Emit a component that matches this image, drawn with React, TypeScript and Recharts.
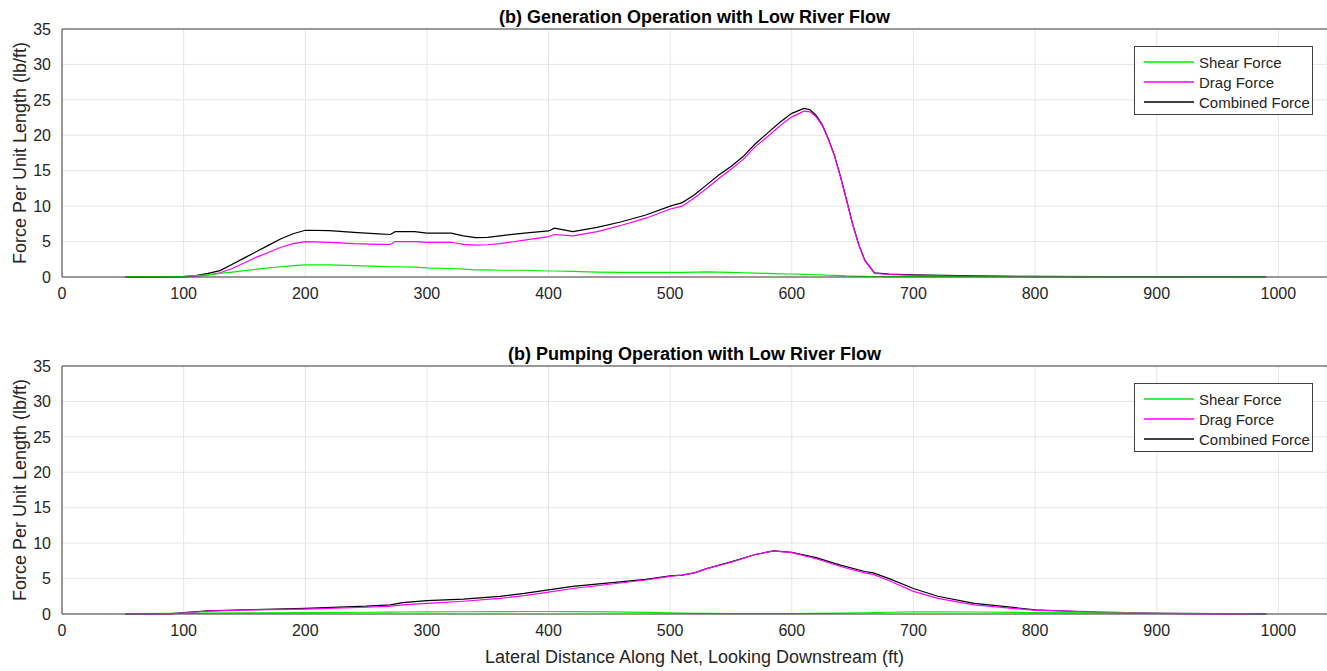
import React from 'react';
import {
  LineChart, Line, XAxis, YAxis, CartesianGrid, ReferenceLine,
} from 'recharts';

// ── Generation operation, low river flow ─────────────────────────────
const genX = [52, 80, 100, 110, 120, 130, 140, 150, 160, 170, 180, 190, 200, 220, 240, 260, 270, 274, 290, 300, 320, 330, 340, 350, 360, 380, 400, 405, 420, 440, 460, 480, 500, 510, 520, 530, 540, 550, 560, 570, 580, 590, 600, 610, 615, 620, 625, 630, 635, 640, 645, 650, 655, 660, 668, 680, 700, 750, 800, 900, 990];
const genShear = [0.05, 0.05, 0.1, 0.2, 0.3, 0.5, 0.7, 0.9, 1.1, 1.3, 1.45, 1.6, 1.7, 1.7, 1.6, 1.5, 1.45, 1.45, 1.4, 1.3, 1.2, 1.1, 1.0, 1.0, 0.95, 0.95, 0.85, 0.85, 0.8, 0.7, 0.65, 0.65, 0.65, 0.65, 0.68, 0.72, 0.68, 0.65, 0.6, 0.55, 0.5, 0.45, 0.42, 0.38, 0.35, 0.32, 0.3, 0.25, 0.22, 0.2, 0.15, 0.12, 0.1, 0.08, 0.07, 0.06, 0.05, 0.04, 0.03, 0.02, 0.01];
const genDrag = [0, 0.01, 0.03, 0.1, 0.3, 0.6, 1.2, 2.0, 2.8, 3.5, 4.2, 4.7, 5.0, 4.9, 4.7, 4.6, 4.6, 5.0, 5.0, 4.9, 4.9, 4.6, 4.5, 4.55, 4.7, 5.2, 5.7, 6.0, 5.8, 6.4, 7.3, 8.3, 9.6, 10.0, 11.2, 12.5, 13.9, 15.2, 16.6, 18.4, 19.8, 21.3, 22.6, 23.4, 23.3, 22.6, 21.4, 19.4, 17.1, 14.1, 10.8, 7.4, 4.5, 2.3, 0.5, 0.35, 0.25, 0.1, 0.05, 0.02, 0];
const genCombined = [0, 0.02, 0.05, 0.2, 0.5, 0.9, 1.8, 2.7, 3.6, 4.5, 5.4, 6.1, 6.6, 6.55, 6.3, 6.1, 6.0, 6.4, 6.4, 6.2, 6.2, 5.8, 5.55, 5.6, 5.8, 6.2, 6.5, 6.9, 6.4, 7.0, 7.8, 8.75, 10.0, 10.5, 11.6, 13.0, 14.4, 15.6, 17.0, 18.8, 20.3, 21.8, 23.1, 23.8, 23.6, 22.8, 21.5, 19.5, 17.2, 14.2, 10.9, 7.5, 4.6, 2.4, 0.6, 0.4, 0.3, 0.15, 0.08, 0.03, 0];

// ── Pumping operation, low river flow ────────────────────────────────
const pumpX = [52, 90, 100, 120, 150, 200, 250, 270, 280, 300, 330, 360, 380, 400, 420, 450, 480, 500, 510, 520, 530, 550, 570, 585, 600, 620, 640, 660, 667, 680, 700, 720, 750, 800, 850, 900, 950, 990];
const pumpShear = [0.05, 0.08, 0.1, 0.12, 0.15, 0.2, 0.25, 0.27, 0.28, 0.3, 0.32, 0.34, 0.35, 0.35, 0.33, 0.3, 0.22, 0.15, 0.12, 0.1, 0.08, 0.05, 0.04, 0.04, 0.05, 0.08, 0.12, 0.18, 0.2, 0.25, 0.3, 0.3, 0.28, 0.2, 0.15, 0.1, 0.07, 0.05];
const pumpDrag = [0, 0.02, 0.15, 0.4, 0.55, 0.7, 0.95, 1.1, 1.3, 1.5, 1.8, 2.2, 2.6, 3.1, 3.6, 4.2, 4.8, 5.3, 5.5, 5.8, 6.4, 7.3, 8.4, 8.9, 8.65, 7.8, 6.7, 5.8, 5.6, 4.7, 3.2, 2.2, 1.3, 0.5, 0.3, 0.1, 0.03, 0];
const pumpCombined = [0, 0.05, 0.2, 0.45, 0.6, 0.8, 1.1, 1.3, 1.6, 1.9, 2.1, 2.5, 2.9, 3.4, 3.9, 4.4, 4.9, 5.4, 5.5, 5.8, 6.4, 7.35, 8.4, 8.9, 8.7, 7.95, 6.9, 6.0, 5.8, 5.0, 3.6, 2.5, 1.5, 0.6, 0.25, 0.1, 0.05, 0];

const xTicks = [0, 100, 200, 300, 400, 500, 600, 700, 800, 900, 1000];
const yTicks = [0, 5, 10, 15, 20, 25, 30, 35];

const FONT = '"Liberation Sans", Arial, Helvetica, sans-serif';
const AXIS = '#404040';
const TEXT = '#262626';
const GREEN = '#00ee00';
const MAGENTA = '#ff00ff';
const BLACK = '#000000';

const series = [
  { key: 'shear', name: 'Shear Force', color: GREEN },
  { key: 'drag', name: 'Drag Force', color: MAGENTA },
  { key: 'combined', name: 'Combined Force', color: BLACK },
];

function rows(x: number[], shear: number[], drag: number[], combined: number[]) {
  return x.map((d, i) => ({ x: d, shear: shear[i], drag: drag[i], combined: combined[i] }));
}

function LegendBox({ top }: { top: number }) {
  return (
    <div style={{
      position: 'absolute', top, left: 1134,
      border: `1px solid ${AXIS}`, background: '#fff', width: 179, height: 69,
      boxSizing: 'border-box', padding: '5px 0 0 9px', fontFamily: FONT, fontSize: 15, color: TEXT,
    }}>
      {series.map((s) => (
        <div key={s.key} style={{ display: 'flex', alignItems: 'center', height: 20 }}>
          <svg width={50} height={4} style={{ marginRight: 5, display: 'block' }}>
            <line x1={0} y1={2} x2={50} y2={2} stroke={s.color} strokeWidth={1.3} />
          </svg>
          <span>{s.name}</span>
        </div>
      ))}
    </div>
  );
}

function Panel({ data, height }: { data: any[]; height: number }) {
  const tick = { fontSize: 16, fill: TEXT, fontFamily: FONT };
  return (
    <LineChart width={1327} height={height} data={data} margin={{ top: 29, right: 0, left: 0, bottom: 0 }}>
      <CartesianGrid stroke="#e6e6e6" strokeWidth={1} />
      <XAxis
        dataKey="x"
        type="number"
        domain={[0, 1040]}
        ticks={xTicks}
        allowDataOverflow
        height={height - 29 - 248}
        tick={tick}
        tickLine={false}
        tickSize={4}
        tickMargin={7}
        axisLine={{ stroke: AXIS }}
      />
      <YAxis
        type="number"
        domain={[0, 35]}
        ticks={yTicks}
        width={62}
        tick={tick}
        tickLine={false}
        tickSize={4}
        tickMargin={7}
        axisLine={{ stroke: AXIS }}
        label={{
          value: 'Force Per Unit Length (lb/ft)', angle: -90, position: 'insideLeft', offset: 20,
          style: { textAnchor: 'middle', fontSize: 18, fill: TEXT, fontFamily: FONT },
        }}
      />
      <ReferenceLine y={35} stroke={AXIS} strokeWidth={1} />
      <Line dataKey="combined" name="Combined Force" stroke={BLACK} strokeWidth={1.2} dot={false} isAnimationActive={false} />
      <Line dataKey="drag" name="Drag Force" stroke={MAGENTA} strokeWidth={1.2} dot={false} isAnimationActive={false} />
      <Line dataKey="shear" name="Shear Force" stroke={GREEN} strokeWidth={1.2} dot={false} isAnimationActive={false} />
    </LineChart>
  );
}

export default function App() {
  const gen = rows(genX, genShear, genDrag, genCombined);
  const pump = rows(pumpX, pumpShear, pumpDrag, pumpCombined);
  const title: React.CSSProperties = {
    position: 'absolute', left: 62, width: 1265, textAlign: 'center',
    fontFamily: FONT, fontWeight: 'bold', fontSize: 18, color: '#000', lineHeight: '20px',
  };
  return (
    <div style={{ position: 'relative', width: 1327, height: 671, overflow: 'hidden', background: '#fff' }}>
      <style>{'body{margin:0;background:#fff}'}</style>
      <div style={{ ...title, top: 7 }}>(b) Generation Operation with Low River Flow</div>
      <div style={{ position: 'absolute', top: 0, left: 0 }}>
        <Panel data={gen} height={310} />
      </div>
      <LegendBox top={46} />
      <div style={{ ...title, top: 344 }}>(b) Pumping Operation with Low River Flow</div>
      <div style={{ position: 'absolute', top: 337, left: 0 }}>
        <Panel data={pump} height={334} />
      </div>
      <LegendBox top={383} />
      <div style={{
        position: 'absolute', left: 62, width: 1265, top: 646, textAlign: 'center',
        fontFamily: FONT, fontSize: 18, color: TEXT, lineHeight: '22px',
      }}>
        Lateral Distance Along Net, Looking Downstream (ft)
      </div>
    </div>
  );
}
